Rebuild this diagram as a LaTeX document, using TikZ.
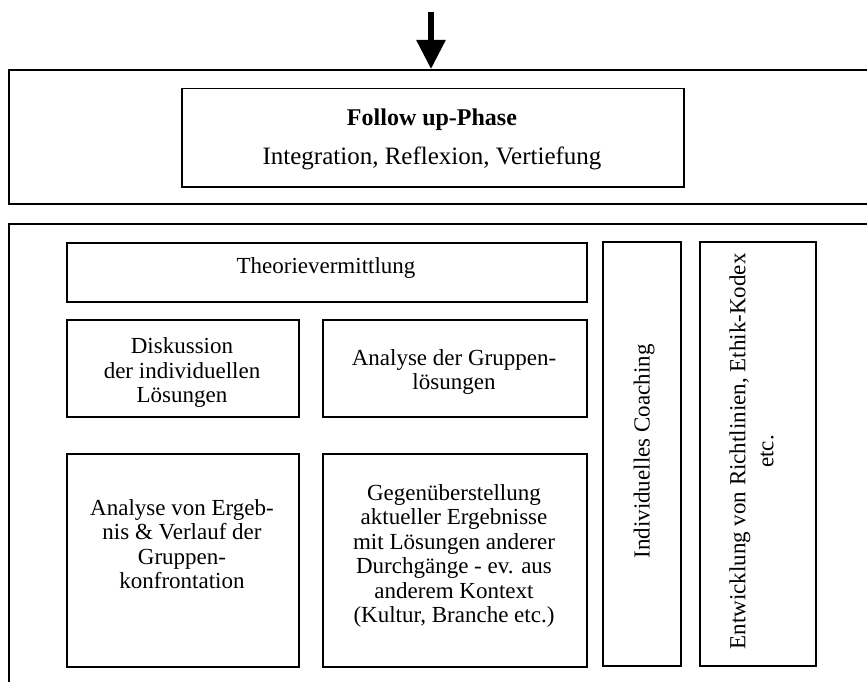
\documentclass[tikz,border=0pt]{standalone}
\usepackage{fontspec}
\setmainfont{Liberation Serif}
\usetikzlibrary{arrows.meta}
\tikzset{
  frame/.style={draw, line width=1.6pt, inner sep=0pt, anchor=north west},
  box/.style={draw, line width=1.5pt, inner sep=0pt, anchor=north west},
  txt/.style={inner sep=0pt, align=center, font=\fontsize{23}{24.5}\selectfont},
  bigtxt/.style={inner sep=0pt, align=center, font=\fontsize{25}{30}\selectfont},
  vbox/.style={draw, line width=1.5pt, inner sep=0pt},
  vtxt/.style={inner sep=0pt, rotate=90, align=center, font=\fontsize{23}{28}\selectfont},
}
\begin{document}
\begin{tikzpicture}[x=1pt,y=-1pt]
\useasboundingbox (0,0) rectangle (867,682);
\clip (0,0) rectangle (867,682);
% outer frames
\node[frame, minimum width=950pt, minimum height=134pt] (outer1) at (8,69) {};
\node[frame, minimum width=950pt, minimum height=520pt] (outer2) at (8,223) {};
% arrow
\coordinate (arrtop) at (431,12);
\draw[line width=5.5pt, -{Triangle[width=28pt,length=29pt]}] (arrtop) -- (arrtop |- outer1.north);
% follow up
\node[box, minimum width=502pt, minimum height=98pt] (follow) at (181,88) {};
\node[bigtxt] (followtxt) at (432,139) {{\fontsize{24}{30}\selectfont\bfseries Follow up-Phase}\\[9pt]Integration, Reflexion, Vertiefung};
% Theorie
\node[box, minimum width=520pt, minimum height=59pt] (theorie) at (66,242) {};
\node[txt] (theorietxt) at (326,267.6) {Theorievermittlung};
% Diskussion
\node[box, minimum width=232pt, minimum height=97pt] (disk) at (66,319) {};
\begin{scope}
\clip (66,319) rectangle (298,406.5);
\node[txt] (disktxt) at (182,372.7) {Diskussion\\der individuellen\\Lösungen};
\end{scope}
% Analyse Gruppenloesungen
\node[box, minimum width=264pt, minimum height=97pt] (grupp) at (322,319) {};
\node[txt] (grupptxt) at (454,371.9) {Analyse der Gruppen-\\lösungen};
% Analyse von Ergebnis
\node[box, minimum width=232pt, minimum height=213pt] (ergeb) at (66,453) {};
\node[txt] (ergebtxt) at (182,543.9) {Analyse von Ergeb-\\nis \& Verlauf der\\Gruppen-\\konfrontation};
% Gegenueberstellung
\node[box, minimum width=264pt, minimum height=213pt] (gegen) at (322,453) {};
\node[txt] (gegentxt) at (454,555.9) {Gegenüberstellung\\aktueller Ergebnisse\\mit Lösungen anderer\\Durchgänge - ev. aus\\anderem Kontext\\(Kultur, Branche etc.)};
% vertical boxes
\node[vbox, minimum width=78pt, minimum height=424pt] (coach) at (642,454) {};
\node[vtxt] (coachtxt) at (644,451.5) {Individuelles Coaching};
\node[vbox, minimum width=116pt, minimum height=424pt] (ethik) at (758,454) {};
\node[vtxt] (ethiktxt) at (751.5,451.5) {Entwicklung von Richtlinien, Ethik-Kodex\\etc.};
\end{tikzpicture}
\end{document}
